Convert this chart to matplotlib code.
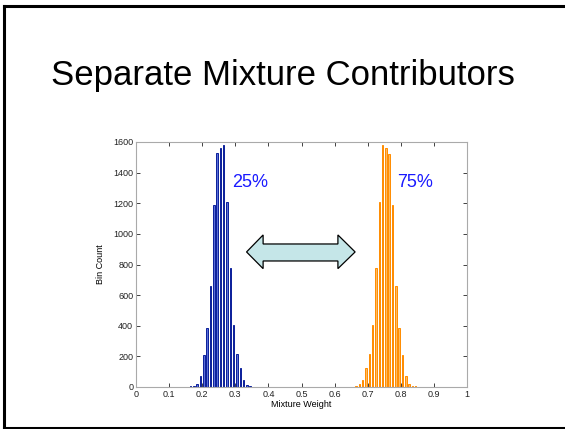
import matplotlib
matplotlib.use("Agg")
import matplotlib.pyplot as plt
from matplotlib.patches import Polygon
from matplotlib.lines import Line2D

plt.rcParams['font.family'] = ['Liberation Sans', 'DejaVu Sans']

# bin centres and counts
blue_centers = [0.165, 0.175, 0.185, 0.195, 0.205, 0.215, 0.225, 0.235, 0.245, 0.255,
                0.265, 0.275, 0.285, 0.295, 0.305, 0.315, 0.325, 0.335, 0.345, 0.355]
blue_counts = [5, 8, 20, 74, 208, 386, 662, 1190, 1528, 1560,
               1578, 1205, 775, 404, 215, 126, 48, 15, 7, 3]

orange_centers = [0.655, 0.665, 0.675, 0.685, 0.695, 0.705, 0.715, 0.725, 0.735, 0.745,
                  0.755, 0.765, 0.775, 0.785, 0.795, 0.805, 0.815, 0.825, 0.835, 0.845]
orange_counts = [2, 8, 20, 48, 126, 217, 404, 775, 1205, 1578,
                 1560, 1523, 1190, 662, 386, 208, 74, 20, 8, 5]

xticks = [0, 0.1, 0.2, 0.3, 0.4, 0.5, 0.6, 0.7, 0.8, 0.9, 1]
xticklabels = ["0", "0.1", "0.2", "0.3", "0.4", "0.5", "0.6", "0.7", "0.8", "0.9", "1"]
yticks = [0, 200, 400, 600, 800, 1000, 1200, 1400, 1600]

fig = plt.figure(figsize=(5.65, 4.29), dpi=100)

# slide frame (right edge runs off the page)
for xs, ys in [([4/565, 4/565], [1-6/429, 1-428/429]),
               ([4/565, 1.0], [1-6/429, 1-6/429]),
               ([4/565, 1.0], [1-428/429, 1-428/429])]:
    fig.add_artist(Line2D(xs, ys, color="black", lw=2.2, transform=fig.transFigure))

fig.text(0.5, 1 - 76/429, "Separate Mixture Contributors", ha="center", va="center",
         fontsize=25, color="black")

ax = fig.add_axes([136/565, 1 - 387/429, 331/565, 245/429])
ax.bar(blue_centers, blue_counts, width=0.0045, color="#5a6fd8", edgecolor="#0a1f9a", linewidth=0.7)
ax.bar(orange_centers, orange_counts, width=0.0045, color="#ffbb60", edgecolor="#ff8c00", linewidth=0.7)

ax.set_xlim(0, 1)
ax.set_ylim(0, 1600)
ax.set_xticks(xticks)
ax.set_xticklabels(xticklabels)
ax.set_yticks(yticks)
ax.tick_params(direction="in", length=3, width=0.6, labelsize=6.5, colors="#222222",
               top=True, right=True, pad=2)
for s in ax.spines.values():
    s.set_color("#aaaaaa")
    s.set_linewidth(0.8)
ax.set_xlabel("Mixture Weight", fontsize=6.5, labelpad=1)
ax.set_ylabel("Bin Count", fontsize=6.5, labelpad=6)

ax.text(0.29, 1336, "25%", color="#1a1aff", fontsize=13, ha="left", va="center")
ax.text(0.79, 1336, "75%", color="#1a1aff", fontsize=13, ha="left", va="center")

# double-headed block arrow between the two peaks
arrow_pts = [(0.334, 882), (0.384, 993), (0.384, 934), (0.610, 934), (0.610, 993),
             (0.662, 882), (0.610, 773), (0.610, 823), (0.384, 823), (0.384, 773)]
ax.add_patch(Polygon(arrow_pts, closed=True, facecolor="#c5e6e8", edgecolor="black",
                     linewidth=0.9, zorder=5))

fig.savefig("out.png", dpi=100)
